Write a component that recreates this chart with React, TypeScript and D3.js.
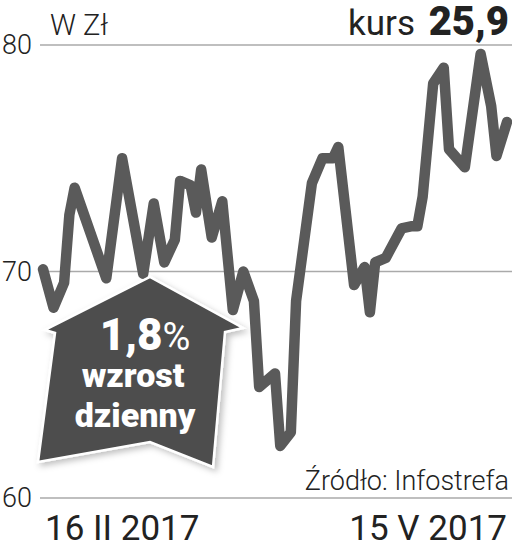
import React from "react";
import * as d3 from "d3";

const dates = [
  "2017-02-16", "2017-02-18", "2017-02-20", "2017-02-21", "2017-02-22", "2017-02-28",
  "2017-03-03", "2017-03-07", "2017-03-09", "2017-03-11", "2017-03-13", "2017-03-14",
  "2017-03-16", "2017-03-17", "2017-03-18", "2017-03-20", "2017-03-22", "2017-03-24",
  "2017-03-26", "2017-03-28", "2017-03-29", "2017-04-01", "2017-04-02", "2017-04-04",
  "2017-04-05", "2017-04-08", "2017-04-10", "2017-04-12", "2017-04-13", "2017-04-16",
  "2017-04-18", "2017-04-19", "2017-04-20", "2017-04-22", "2017-04-25", "2017-04-27",
  "2017-04-28", "2017-04-29", "2017-05-01", "2017-05-03", "2017-05-04", "2017-05-07",
  "2017-05-10", "2017-05-12", "2017-05-13", "2017-05-15",
];
const prices = [
  70.1, 68.4, 69.5, 72.5, 73.7, 69.7,
  75.0, 69.9, 73.0, 70.4, 71.4, 74.0,
  73.8, 72.6, 74.5, 71.5, 73.1, 68.3,
  70.0, 68.7, 64.9, 65.5, 62.3, 62.9,
  68.7, 73.9, 75.0, 75.0, 75.5, 69.4,
  70.2, 68.2, 70.4, 70.6, 71.9, 72.0,
  72.0, 73.3, 78.3, 79.0, 75.4, 74.6,
  79.6, 77.3, 75.1, 76.6,
];
const yTicks = [60, 70, 80];
const startLabel = "16 II 2017";
const endLabel = "15 V 2017";
const unitLabel = "W Zł";
const kursLabel = "kurs";
const kursValue = "25,9";
const changeValue = "1,8";
const changeLines = ["wzrost", "dzienny"];
const sourceLabel = "Źródło: Infostrefa";

const W = 512;
const H = 549;

export default function App() {
  const parse = d3.utcParse("%Y-%m-%d");
  const data = dates.map((d, i) => ({ date: parse(d) as Date, value: prices[i] }));
  const x = d3
    .scaleUtc()
    .domain([parse(dates[0]) as Date, parse(dates[dates.length - 1]) as Date])
    .range([43, 507]);
  const y = d3.scaleLinear().domain([60, 80]).range([498, 45]);
  const line = d3
    .line<{ date: Date; value: number }>()
    .x((d) => x(d.date))
    .y((d) => y(d.value));

  const house = [
    [150, 277],
    [243, 328],
    [225, 332],
    [213, 467],
    [150, 442],
    [38, 462],
    [55, 333],
    [45, 330],
  ];
  const housePath = "M" + house.map((p) => p.join(",")).join("L") + "Z";

  const font = "Roboto, 'Noto Sans', sans-serif";
  return (
    <svg
      width={W}
      height={H}
      viewBox={`0 0 ${W} ${H}`}
      style={{ position: "absolute", left: 0, top: 0, background: "#fff" }}
    >
      <defs>
        <filter id="sh" x="-20%" y="-20%" width="140%" height="140%">
          <feDropShadow dx="3" dy="3" stdDeviation="3" floodColor="#000" floodOpacity="0.25" />
        </filter>
      </defs>
      <rect width={W} height={H} fill="#fff" />
      {yTicks.map((t) => (
        <g key={t}>
          <line x1={40} x2={512} y1={y(t)} y2={y(t)} stroke="#aaa" strokeWidth={1.5} />
          <text x={2} y={y(t) + 9} fontFamily={font} fontWeight={300} fontSize={27} fill="#222">
            {t}
          </text>
        </g>
      ))}
      <text x={50} y={35} fontFamily={font} fontWeight={300} fontSize={29} fill="#222">
        {unitLabel}
      </text>
      <text x={415} y={35} textAnchor="end" fontFamily={font} fontSize={35} fill="#222">
        {kursLabel}
      </text>
      <text x={509} y={35} textAnchor="end" fontFamily={font} fontWeight={900} fontSize={40} fill="#222">
        {kursValue}
      </text>
      <path
        d={line(data) || ""}
        fill="none"
        stroke="#5a5a5a"
        strokeWidth={10.5}
        strokeLinejoin="round"
        strokeLinecap="round"
      />
      <path d={housePath} fill="#4d4d4d" stroke="#fff" strokeWidth={2.5} strokeLinejoin="miter" filter="url(#sh)" />
      <text x={145} y={350} textAnchor="middle" fontFamily={font} fill="#fff">
        <tspan fontWeight={900} fontSize={44}>{changeValue}</tspan>
        <tspan fontWeight={400} fontSize={38}>%</tspan>
      </text>
      <text x={133} y={387} textAnchor="middle" fontFamily={font} fontWeight={900} fontSize={34} fill="#fff">
        {changeLines[0]}
      </text>
      <text x={135} y={427} textAnchor="middle" fontFamily={font} fontWeight={900} fontSize={34} fill="#fff">
        {changeLines[1]}
      </text>
      <text x={509} y={490} textAnchor="end" fontFamily={font} fontWeight={300} fontSize={27} fill="#222">
        {sourceLabel}
      </text>
      <text x={45} y={540} fontFamily={font} fontSize={35} fill="#222">
        {startLabel}
      </text>
      <text x={507} y={540} textAnchor="end" fontFamily={font} fontSize={35} fill="#222">
        {endLabel}
      </text>
    </svg>
  );
}
